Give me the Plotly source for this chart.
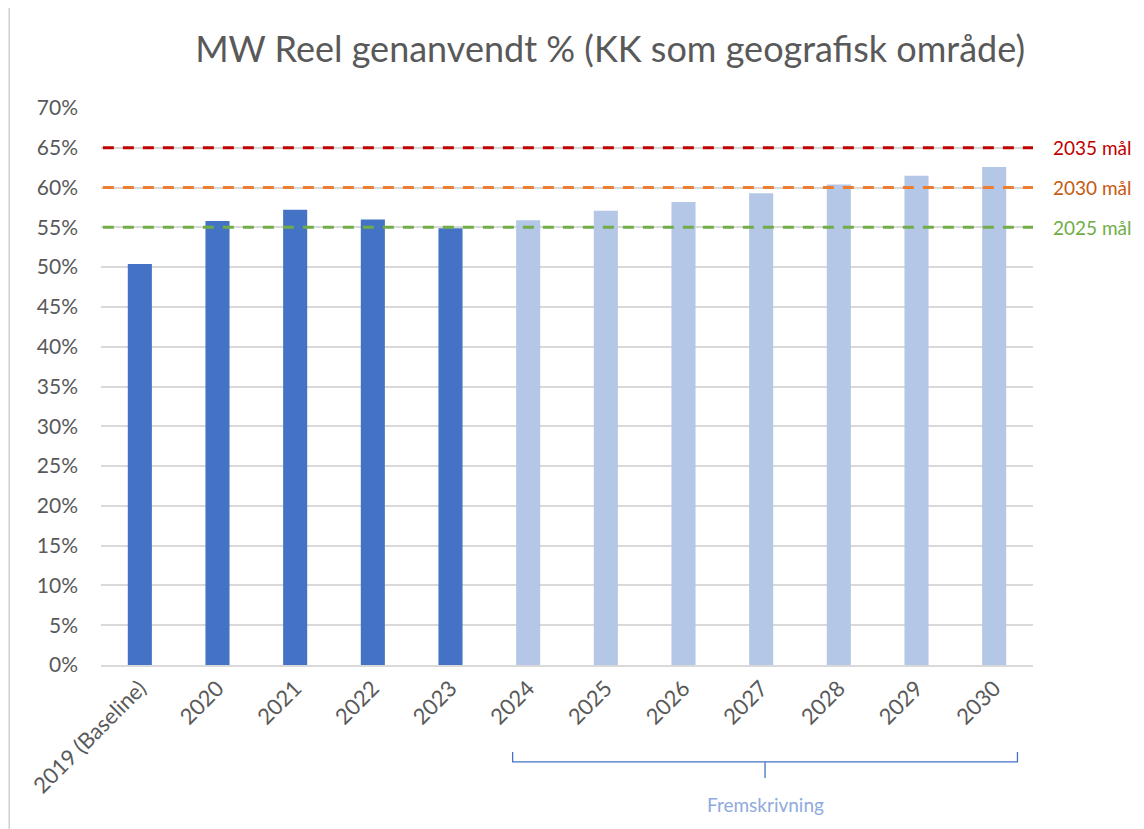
import plotly.graph_objects as go

categories = ["2019 (Baseline)", "2020", "2021", "2022", "2023", "2024", "2025",
              "2026", "2027", "2028", "2029", "2030"]
values = [0.504, 0.558, 0.572, 0.560, 0.549, 0.559, 0.571, 0.582, 0.593, 0.604, 0.615, 0.626]
actual_count = 5
targets = [0.65, 0.60, 0.55]
target_labels = ["2035 mål", "2030 mål", "2025 mål"]
target_colors = ["#C00000", "#ED7D31", "#70AD47"]
target_text_colors = ["#C00000", "#C55A11", "#70AD47"]
y_ticks = [i * 0.05 for i in range(15)]
title_text = "MW Reel genanvendt % (KK som geografisk område)"
bracket_label = "Fremskrivning"

FONT = "Lato, Carlito, Calibri, sans-serif"
bar_colors = ["#4472C4" if i < actual_count else "#B4C7E7" for i in range(len(categories))]

fig = go.Figure()
fig.add_trace(go.Bar(x=categories, y=values, marker=dict(color=bar_colors, line=dict(width=0)),
                     width=0.31, hoverinfo="x+y"))

shapes = []
annotations = []
for t, lab, c, tc in zip(targets, target_labels, target_colors, target_text_colors):
    shapes.append(dict(type="line", xref="paper", yref="y", x0=0.002, x1=1.0, y0=t, y1=t,
                       line=dict(color=c, width=3, dash="11px,9px"), layer="above"))
    annotations.append(dict(xref="paper", yref="y", x=1.019, y=t, text=lab, showarrow=False,
                            xanchor="left", yanchor="middle",
                            font=dict(family=FONT, size=19, color=tc)))

# forecast bracket
n = len(categories)
x_start = actual_count - 0.2
x_end = n - 0.7
x_mid = (x_start + x_end) / 2
yb = -0.174
shapes.append(dict(type="path", xref="x", yref="paper",
                   path=f"M {x_start},-0.156 L {x_start},{yb} L {x_end},{yb} L {x_end},-0.156",
                   line=dict(color="#4472C4", width=1.3)))
shapes.append(dict(type="line", xref="x", yref="paper", x0=x_mid, x1=x_mid, y0=yb, y1=-0.203,
                   line=dict(color="#4472C4", width=1.3)))
annotations.append(dict(xref="x", yref="paper", x=x_mid, y=-0.251, text=bracket_label,
                        showarrow=False, xanchor="center", yanchor="middle",
                        font=dict(family=FONT, size=19, color="#8FAADC")))

# left page border
shapes.append(dict(type="line", xref="paper", yref="paper", x0=-0.0985, x1=-0.0985,
                   y0=-0.3, y1=1.2, line=dict(color="#D0D0D0", width=1.5)))

fig.update_layout(
    width=1136, height=821,
    margin=dict(l=93, r=111, t=100, b=164),
    paper_bgcolor="white", plot_bgcolor="white",
    showlegend=False,
    bargap=0.69,
    title=dict(text=title_text, x=0.53, xanchor="center", y=0.949, yanchor="middle",
               font=dict(family=FONT, size=36, color="#595959")),
    font=dict(family=FONT, color="#595959"),
    xaxis=dict(type="category", tickangle=-45, tickfont=dict(family=FONT, size=22, color="#595959"),
               showgrid=False, showline=True, linecolor="#D9D9D9", linewidth=1.5, ticks=""),
    yaxis=dict(range=[0, 0.70], tickvals=y_ticks, tickformat=".0%",
               tickfont=dict(family=FONT, size=21, color="#595959"),
               showgrid=True, gridcolor="#D9D9D9", gridwidth=1.5, zeroline=False,
               showline=False, ticks="", ticklabelstandoff=22),
    shapes=shapes, annotations=annotations,
)

fig.write_html("out.html")
